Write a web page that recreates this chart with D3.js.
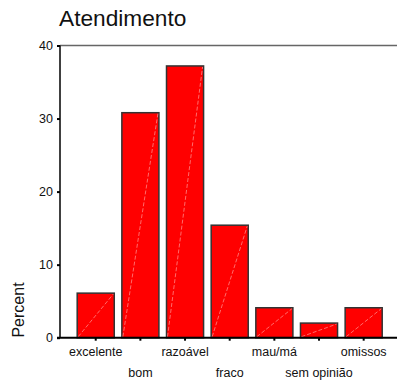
<!DOCTYPE html>
<html><head><meta charset="utf-8">
<script src="https://cdn.jsdelivr.net/npm/d3@7"></script>
<style>html,body{margin:0;padding:0;background:#fff;} svg{display:block;font-family:"Liberation Sans",Arial,sans-serif;}</style>
</head><body>
<svg id="c" width="397" height="380"></svg>
<script>
const categories = ["excelente","bom","razoável","fraco","mau/má","sem opinião","omissos"];
const percentValues = [6.1, 30.8, 37.2, 15.4, 4.1, 2.0, 4.1];
const yTicks = [0, 10, 20, 30, 40];
const title = "Atendimento";
const yLabel = "Percent";
const FONT = "'Liberation Sans', Arial, sans-serif";

const svg = d3.select("#c");
const x = d3.scaleBand().domain(categories).range([73.4, 386]).paddingInner(0.17).paddingOuter(0.085);
const y = d3.scaleLinear().domain([0, 40]).range([337.7, 45.5]);

// top frame line
svg.append("line").attr("x1", 60).attr("x2", 397).attr("y1", y(40)).attr("y2", y(40))
  .attr("stroke", "#666").attr("stroke-width", 1.5);

// bars
const g = svg.append("g");
categories.forEach((c, i) => {
  const x0 = x(c), w = x.bandwidth(), y0 = y(percentValues[i]), y1 = y(0);
  g.append("rect").attr("x", x0).attr("y", y0).attr("width", w).attr("height", y1 - y0)
    .attr("fill", "#ff0000").attr("stroke", "#333").attr("stroke-width", 1.5);
  g.append("line").attr("x1", x0 + 1).attr("y1", y1 - 1).attr("x2", x0 + w - 1).attr("y2", y0 + 1)
    .attr("stroke", "#ff9a9a").attr("stroke-width", 0.7).attr("stroke-dasharray", "4,2");
});

// y axis
const yAxis = d3.axisLeft(y).tickValues(yTicks).tickSize(3).tickPadding(4);
const ya = svg.append("g").attr("transform", "translate(60,0)").call(yAxis);
ya.select(".domain").attr("stroke", "#000").attr("stroke-width", 1.5).attr("d", `M0,${y(40)}V${y(0)}`);
ya.selectAll(".tick line").attr("stroke", "#000").attr("stroke-width", 2);
ya.selectAll(".tick text").attr("font-size", 12.5).attr("fill", "#111").attr("font-family", FONT);

// x axis
const xAxis = d3.axisBottom(x).tickSize(3).tickPadding(0);
const xa = svg.append("g").attr("transform", `translate(0,${y(0)})`).call(xAxis);
xa.select(".domain").attr("d", "M57,0H397").attr("stroke", "#000").attr("stroke-width", 2);
xa.selectAll(".tick line").attr("stroke", "#000").attr("stroke-width", 2);
xa.selectAll(".tick text").attr("font-size", 12.5).attr("fill", "#111")
  .attr("font-family", FONT)
  .attr("dy", null)
  .attr("y", (d, i) => i % 2 === 0 ? 18 : 39);

// title
svg.append("text").attr("x", 59).attr("y", 25.7).attr("font-size", 22.7).attr("font-family", FONT).attr("fill", "#111").text(title);

// y label
svg.append("text").attr("transform", "translate(23.5,310) rotate(-90)").attr("text-anchor", "middle")
  .attr("font-size", 16).attr("font-family", FONT).attr("fill", "#111").text(yLabel);
</script>
</body></html>
